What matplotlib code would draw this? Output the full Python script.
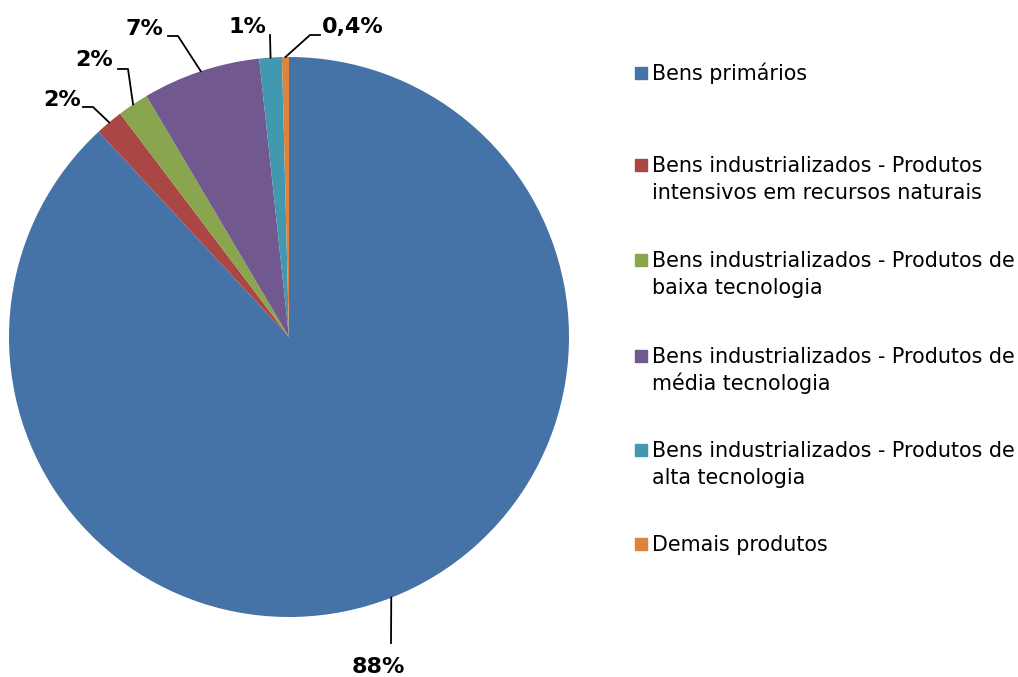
import numpy as np
import matplotlib.pyplot as plt
from matplotlib.patches import Rectangle

categories = ['Bens primários',
              'Bens industrializados - Produtos\nintensivos em recursos naturais',
              'Bens industrializados - Produtos de\nbaixa tecnologia',
              'Bens industrializados - Produtos de\nmédia tecnologia',
              'Bens industrializados - Produtos de\nalta tecnologia',
              'Demais produtos']
values = [88.1, 1.6, 1.8, 6.8, 1.3, 0.4]
pct_labels = ['88%', '2%', '2%', '7%', '1%', '0,4%']
colors = ['#4572A7', '#AA4643', '#89A54E', '#71588F', '#4198AF', '#DB843D']

W, H = 1018, 677
fig = plt.figure(figsize=(W / 100, H / 100), dpi=100)
cx, cy, R = 289, 337, 280
ax = fig.add_axes([(cx - R) / W, (H - cy - R) / H, 2 * R / W, 2 * R / H])
wedges, _ = ax.pie(values, colors=colors, startangle=90, counterclock=False,
                   radius=1, wedgeprops=dict(linewidth=0))
ax.set_xlim(-1, 1)
ax.set_ylim(-1, 1)
ax.set_aspect('equal')
ax.axis('off')


def px(x, y):
    # pixel -> data coords of the pie axes
    return (x - cx) / R, (cy - y) / R


# leader line elbows and label positions, in pixels
elbows = [[(391, 643)],
          [(93, 107), (83, 107)],
          [(128, 69), (118, 69)],
          [(178, 36), (168, 36)],
          [(270, 35)],
          [(310, 35), (320, 35)]]
text_pos = [((378, 667), 'center'),
            ((81, 100), 'right'),
            ((113, 60), 'right'),
            ((163, 29), 'right'),
            ((266, 27), 'right'),
            ((322, 27), 'left')]

for w, lab, el, (tp, ha) in zip(wedges, pct_labels, elbows, text_pos):
    mid = np.deg2rad((w.theta1 + w.theta2) / 2)
    pts = [(np.cos(mid), np.sin(mid))] + [px(*p) for p in el]
    xs, ys = zip(*pts)
    ax.plot(xs, ys, color='black', lw=1.3, clip_on=False)
    tx, ty = px(*tp)
    ax.text(tx, ty, lab, ha=ha, va='center', fontsize=16, fontweight='bold',
            clip_on=False)

# legend
leg_y = [73, 165, 260, 356, 450, 544]
for lab, col, y in zip(categories, colors, leg_y):
    fig.patches.append(Rectangle((635 / W, (H - y - 6) / H), 12 / W, 12 / H,
                                 transform=fig.transFigure, color=col))
    for i, line in enumerate(lab.split('\n')):
        fig.text(652 / W, (H - y - 7 - 27 * i) / H, line, ha='left',
                 va='baseline', fontsize=14.9, transform=fig.transFigure)

fig.savefig('out.png', dpi=100)
